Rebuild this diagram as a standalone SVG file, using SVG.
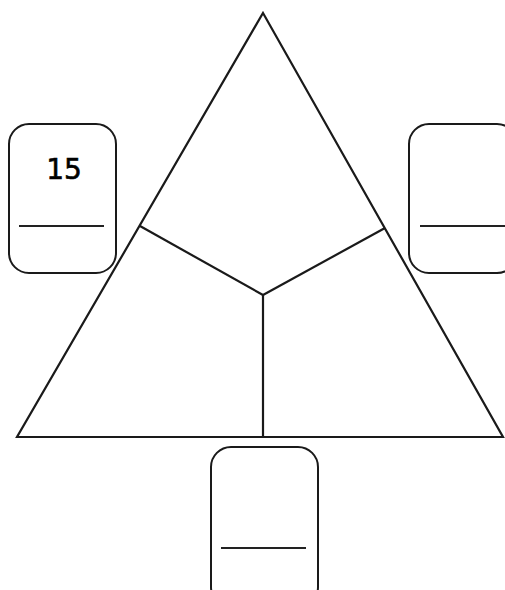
<svg xmlns="http://www.w3.org/2000/svg" width="505" height="590" viewBox="0 0 505 590">
<style>
.ln{stroke:#1a1a1a;stroke-width:2.2;fill:none;stroke-linejoin:miter}
.box{stroke:#1a1a1a;stroke-width:2;fill:#fff}
.blank{stroke:#222;stroke-width:1.8}
.num{font-family:"DejaVu Sans",sans-serif;font-size:28px;fill:#000;stroke:#000;stroke-width:0.6}
</style>
<rect width="505" height="590" fill="#fff"/>
<g id="connectors">
<polygon class="ln" points="263,13 503,437 17,437"/>
<line class="ln" x1="263" y1="295" x2="140" y2="226"/>
<line class="ln" x1="263" y1="295" x2="385" y2="228"/>
<line class="ln" x1="263" y1="295" x2="263" y2="437"/>
</g>
<g id="box-left">
<rect class="box" x="9" y="124" width="107" height="149" rx="20"/>
<line class="blank" x1="19" y1="226" x2="104" y2="226"/>
<text class="num" x="64" y="179" text-anchor="middle">15</text>
</g>
<g id="box-right">
<rect class="box" x="409" y="124" width="108" height="149" rx="20"/>
<line class="blank" x1="420" y1="226" x2="505" y2="226"/>
</g>
<g id="box-bottom">
<rect class="box" x="211" y="447" width="107" height="160" rx="20"/>
<line class="blank" x1="221" y1="548" x2="306" y2="548"/>
</g>
</svg>
